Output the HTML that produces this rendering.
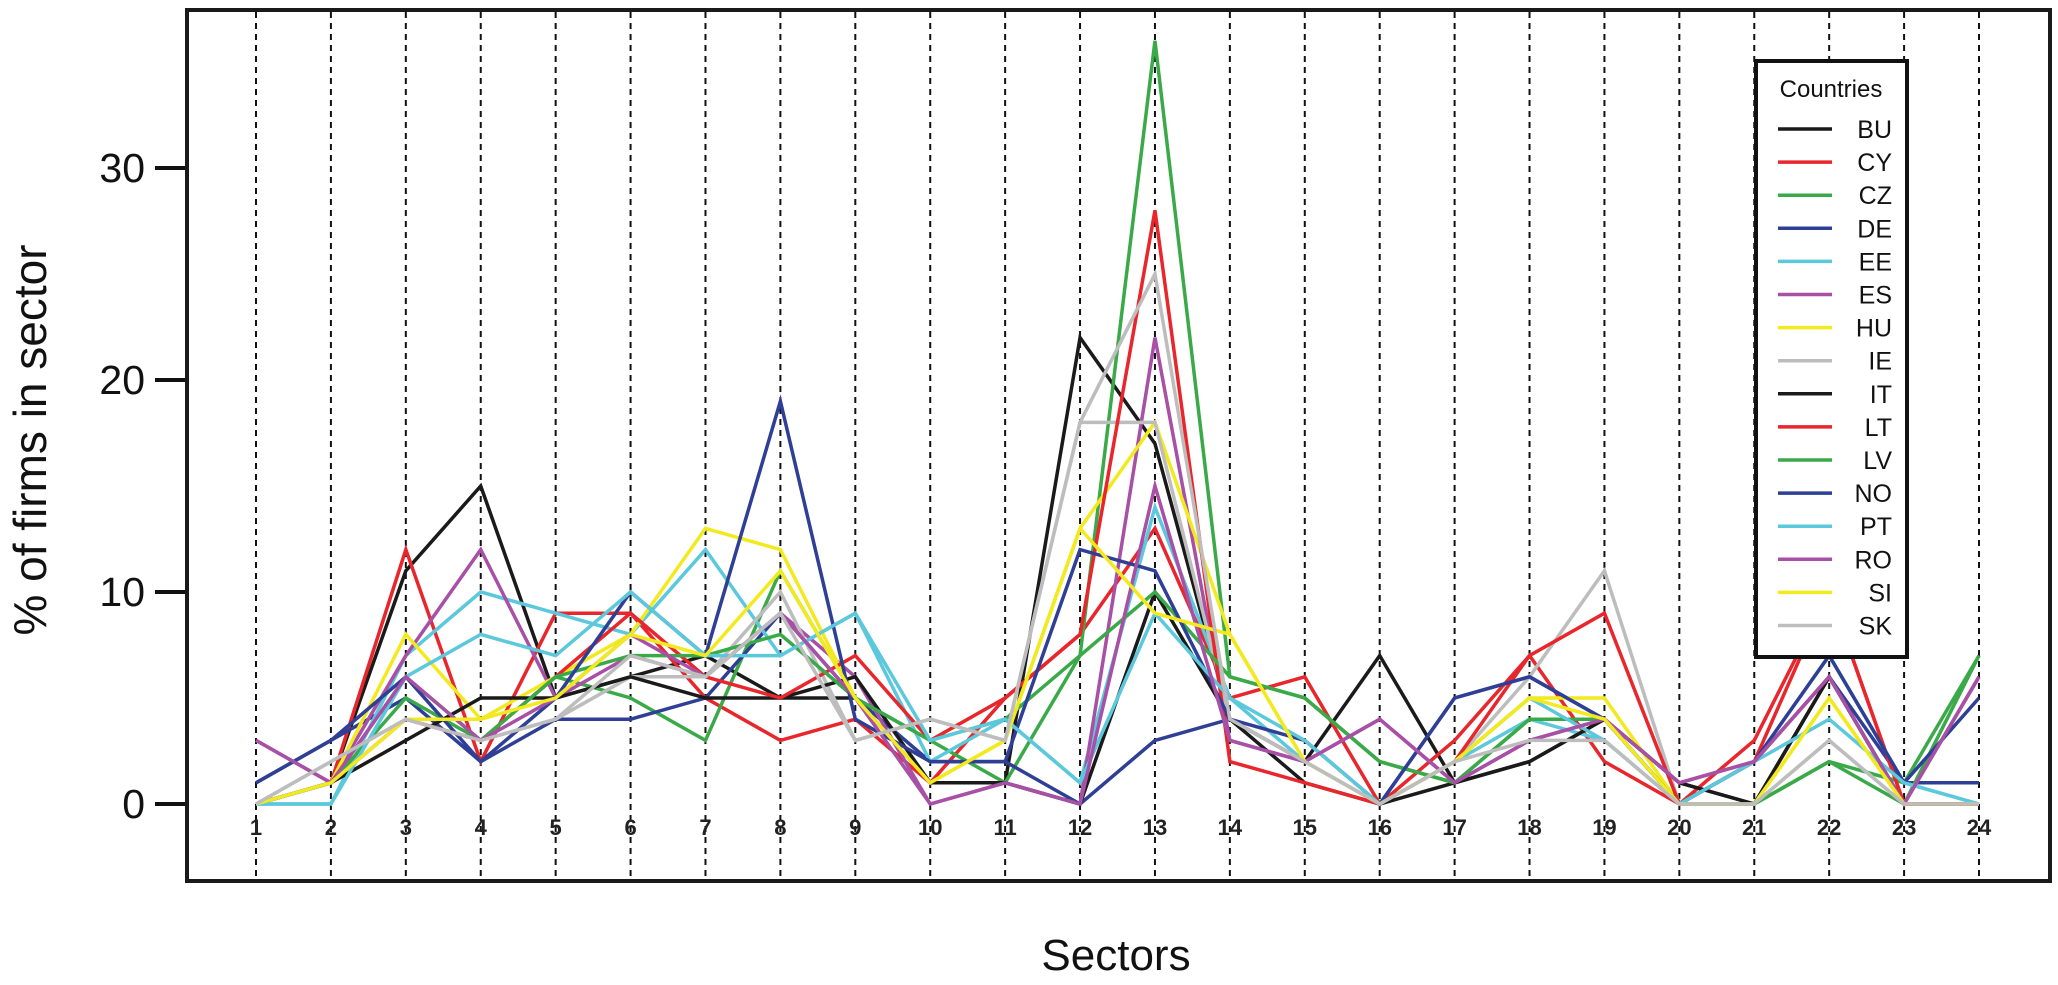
<!DOCTYPE html>
<html><head><meta charset="utf-8">
<style>
html,body{margin:0;padding:0;background:#fff;}
svg{display:block;font-family:"Liberation Sans",Arial,sans-serif;}
</style></head>
<body>
<svg id="chart" width="2058" height="985" viewBox="0 0 2058 985" xmlns="http://www.w3.org/2000/svg">
  <rect x="0" y="0" width="2058" height="985" fill="#fff"/>
  <g id="grid"></g>
  <g id="series"></g>
  <g id="xlabels"></g>
  <g id="yaxis"></g>
  <rect x="187" y="10" width="1863" height="871" fill="none" stroke="#1a1a1a" stroke-width="4"/>
  <text transform="translate(46,440) rotate(-90)" text-anchor="middle" font-size="46" fill="#111">% of firms in sector</text>
  <text x="1116" y="970" text-anchor="middle" font-size="44" fill="#111">Sectors</text>
  <g id="legend"></g>
</svg>
<script>
const sectors = [1,2,3,4,5,6,7,8,9,10,11,12,13,14,15,16,17,18,19,20,21,22,23,24];
const yTicks = [0,10,20,30];
const countries = ["BU","CY","CZ","DE","EE","ES","HU","IE","IT","LT","LV","NO","PT","RO","SI","SK"];
const colors = ["#1a1a1a","#e8262b","#3aaa48","#2e3f95","#5bc8dc","#a84fa6","#f2ea1f","#bdbdbd","#1a1a1a","#e8262b","#3aaa48","#2e3f95","#5bc8dc","#a84fa6","#f2ea1f","#bdbdbd"];
const BU = [0,1,11,15,5,6,7,5,5,1,1,22,17,4,2,7,1,2,4,1,0,6,0,0];
const CY = [0,1,12,2,9,9,5,3,4,1,5,8,13,5,6,0,3,7,2,0,3,10,0,0];
const CZ = [0,1,6,3,6,5,3,11,5,3,1,7,36,6,5,2,1,4,4,0,0,2,1,7];
const DE = [1,3,5,2,4,4,5,9,5,2,2,0,3,4,2,0,5,6,4,0,2,6,1,1];
const EE = [0,0,7,10,9,8,12,7,9,2,4,1,14,5,2,0,2,4,3,0,2,7,1,0];
const ES = [3,1,7,12,5,7,6,9,6,0,1,0,22,3,2,4,1,3,4,1,2,6,0,6];
const HU = [0,1,8,4,6,8,13,12,5,1,3,13,18,8,2,0,2,5,5,0,0,5,0,0];
const IE = [0,2,4,3,4,6,6,10,3,4,3,18,18,4,2,0,2,6,11,0,0,3,0,0];
const IT = [0,1,3,5,5,6,5,5,6,1,1,0,10,4,1,0,1,2,4,1,0,6,0,0];
const LT = [0,1,4,3,6,9,6,5,7,3,5,8,28,2,1,0,2,7,9,0,2,10,0,0];
const LV = [0,1,5,3,6,7,7,8,5,3,4,7,10,6,5,2,1,4,4,0,0,2,0,7];
const NO = [1,3,6,2,5,10,7,19,4,2,2,12,11,4,3,0,5,6,4,0,2,7,1,5];
const PT = [0,0,6,8,7,10,7,7,9,3,4,1,9,5,3,0,2,5,3,0,2,4,1,0];
const RO = [3,1,6,3,5,8,6,9,5,0,1,0,15,3,2,4,1,3,4,1,2,6,0,6];
const SI = [0,1,4,4,5,8,7,11,5,1,3,13,9,8,2,0,2,5,4,0,0,5,0,0];
const SK = [0,2,4,3,4,7,6,9,3,4,3,18,25,4,2,0,2,3,3,0,0,3,0,0];
const seriesData = [BU,CY,CZ,DE,EE,ES,HU,IE,IT,LT,LV,NO,PT,RO,SI,SK];

const NS = "http://www.w3.org/2000/svg";
function xScale(s){ return 256 + (s-1)*(1979-256)/23; }
function yScale(v){ return 804 - v*21.2; }
function mk(tag, attrs, parent){ const e=document.createElementNS(NS,tag); for(const k in attrs) e.setAttribute(k,attrs[k]); parent.appendChild(e); return e; }

const grid=document.getElementById('grid');
const xl=document.getElementById('xlabels');
sectors.forEach(s=>{
  const l=mk('line',{x1:xScale(s),x2:xScale(s),y1:12,y2:879,stroke:'#111','stroke-width':2,'stroke-dasharray':'6,5'},grid);
  
  
  const t=mk('text',{x:xScale(s),y:835,'text-anchor':'middle','font-size':22,fill:'#222','font-weight':'bold'},xl);
  t.textContent=s;
  
  
});
const ya=document.getElementById('yaxis');
yTicks.forEach(v=>{
  const tk=mk('line',{x1:155,x2:187,y1:yScale(v),y2:yScale(v),stroke:'#111','stroke-width':4},ya);
  
  
  const t=mk('text',{x:145,y:yScale(v)+14,'text-anchor':'end','font-size':41,fill:'#111'},ya);
  t.textContent=v;
  
  
});
const sg=document.getElementById('series');
seriesData.forEach((d,i)=>{
  const pts=d.map((v,j)=>xScale(sectors[j])+','+yScale(v)).join(' ');
  const p=mk('polyline',{points:pts,fill:'none',stroke:colors[i],'stroke-width':3.5,'stroke-linejoin':'miter'},sg);
  
  
});
const lg=document.getElementById('legend');
mk('rect',{x:1756,y:61,width:151,height:596,fill:'#fff',stroke:'#111','stroke-width':4},lg);
const ttl=mk('text',{x:1831,y:97,'text-anchor':'middle','font-size':24,fill:'#111'},lg);
ttl.textContent='Countries';


countries.forEach((c,i)=>{
  const y=129+i*33.1;
  const ln=mk('line',{x1:1778,x2:1832,y1:y,y2:y,stroke:colors[i],'stroke-width':3.5},lg);
  
  
  const t=mk('text',{x:1892,y:y+9,'text-anchor':'end','font-size':25,fill:'#111'},lg);
  t.textContent=c;
  
  
});
</script>
</body></html>
